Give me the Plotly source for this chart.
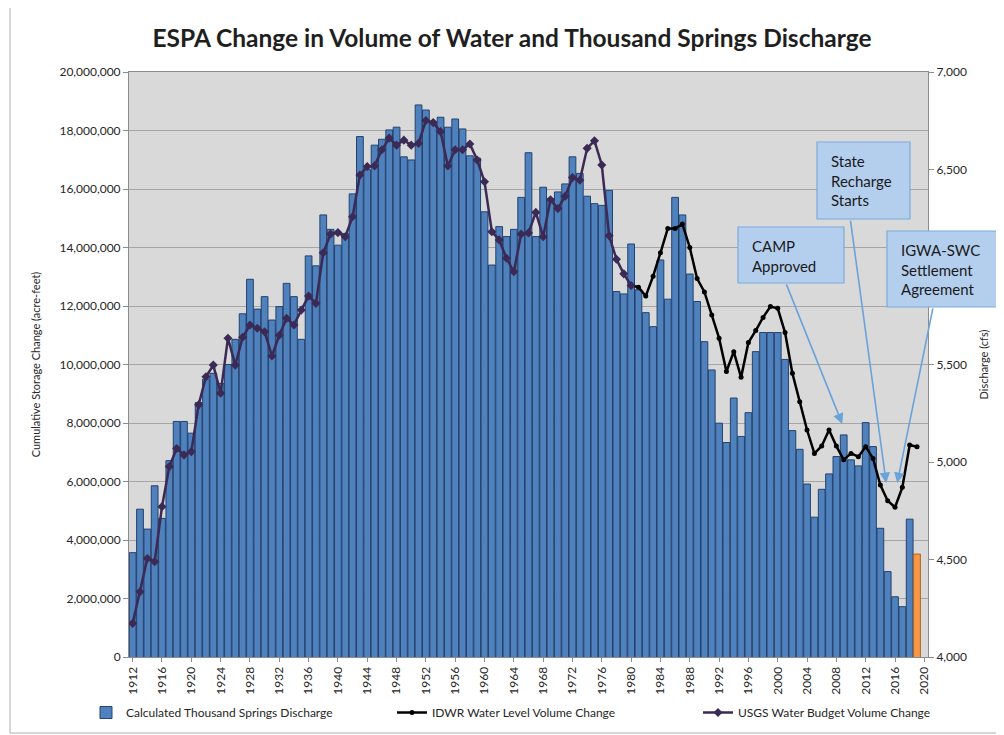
import plotly.graph_objects as go

# ---- data ----
years = list(range(1912, 2020))

# Calculated Thousand Springs Discharge (cfs), 1912-2019
discharge_cfs = [
    4535, 4758, 4656, 4878, 4711, 5007, 5208, 5208, 5148, 5305,   # 1912-1921
    5425, 5455, 5403, 5500, 5629, 5760, 5937, 5784, 5848, 5728,   # 1922-1931
    5797, 5916, 5848, 5629, 6057, 6006, 6267, 6193, 6112, 6172,   # 1932-1941
    6375, 6669, 6499, 6625, 6655, 6703, 6717, 6565, 6549, 6831,   # 1942-1951
    6805, 6745, 6768, 6717, 6759, 6708, 6570, 6558, 6283, 6010,   # 1952-1961
    6207, 6156, 6193, 6357, 6586, 6156, 6409, 6351, 6385, 6426,   # 1962-1971
    6565, 6480, 6363, 6325, 6316, 6393, 5874, 5862, 6118, 5883,   # 1972-1981
    5766, 5694, 6036, 5835, 6357, 6267, 5964, 5823, 5617, 5472,   # 1982-1991
    5199, 5100, 5328, 5131, 5253, 5566, 5664, 5664, 5664, 5526,   # 1992-2001
    5161, 5065, 4887, 4717, 4860, 4939, 5028, 5139, 5011, 4980,   # 2002-2011
    5202, 5079, 4660, 4438, 4309, 4258, 4707, 4528,               # 2012-2019
]
provisional_year = 2019

# USGS Water Budget Volume Change (acre-feet), 1912-1980
usgs_years = list(range(1912, 1981))
usgs_af = [
    1.15e6, 2.23e6, 3.37e6, 3.26e6, 5.14e6, 6.51e6, 7.13e6, 6.91e6, 7.02e6, 8.62e6,
    9.58e6, 9.98e6, 9.02e6, 10.9e6, 9.98e6, 10.93e6, 11.35e6, 11.24e6, 11.12e6, 10.29e6,
    11.0e6, 11.58e6, 11.35e6, 11.86e6, 12.34e6, 12.09e6, 13.82e6, 14.46e6, 14.51e6, 14.37e6,
    15.05e6, 16.48e6, 16.77e6, 16.79e6, 17.34e6, 17.74e6, 17.5e6, 17.67e6, 17.5e6, 17.56e6,
    18.34e6, 18.27e6, 17.96e6, 16.79e6, 17.34e6, 17.34e6, 17.54e6, 16.99e6, 16.25e6, 14.54e6,
    14.26e6, 13.63e6, 13.17e6, 14.46e6, 14.5e6, 15.2e6, 14.37e6, 15.63e6, 15.33e6, 15.75e6,
    16.39e6, 16.3e6, 17.39e6, 17.65e6, 16.82e6, 14.4e6, 13.6e6, 13.1e6, 12.7e6,
]

# IDWR Water Level Volume Change (acre-feet), 1980-2019
idwr_years = list(range(1980, 2020))
idwr_af = [
    12.72e6, 12.64e6, 12.34e6, 13.02e6, 13.82e6, 14.65e6, 14.65e6, 14.8e6, 14.0e6, 12.94e6,
    12.48e6, 11.69e6, 10.9e6, 9.76e6, 10.44e6, 9.56e6, 10.75e6, 11.16e6, 11.61e6, 11.98e6,
    11.92e6, 11.09e6, 9.7e6, 8.73e6, 7.76e6, 6.96e6, 7.21e6, 7.76e6, 7.21e6, 6.74e6,
    6.96e6, 6.85e6, 7.19e6, 6.79e6, 5.88e6, 5.34e6, 5.12e6, 5.8e6, 7.25e6, 7.19e6,
]

x_ticks = list(range(1912, 2021, 4))
cfs_ticks = list(range(4000, 7001, 500))
# the 6,000 label sits under the IGWA-SWC callout in the original
cfs_ticktext = ["" if v == 6000 else f"{v:,}" for v in cfs_ticks]

# callouts: (text, box left/top in page px, width, height, arrow tail (year, af), arrow head (year, af))
callouts = [
    ("CAMP<br>Approved", 738, 227, 106, 56, (2001.1, 12.79e6), (2008.8, 7.97e6)),
    ("State<br>Recharge<br>Starts", 817, 142, 93, 77, (2009.9, 14.97e6), (2014.8, 5.95e6)),
    ("IGWA-SWC<br>Settlement<br>Agreement", 887, 231, 125, 76, (2021.2, 11.97e6), (2016.3, 5.95e6)),
]

FONT = "Lato, 'Open Sans', sans-serif"
BLUE = "#4F81BD"
ORANGE = "#F79646"

# the page body adds an 8px margin, so the figure is laid out 8px smaller
OFF = 8
W, H = 1004 - OFF, 735 - OFF
L, T = 129 - OFF, 72 - OFF
R, B = W - (928 - OFF), H - (657 - OFF)
PW, PH = W - L - R, H - T - B


def px_x(px):
    return (px - OFF - L) / PW


def px_y(py):
    return (H + OFF - B - py) / PH


fig = go.Figure()

bar_colors = [ORANGE if y == provisional_year else BLUE for y in years]
bar_lines = ["#B3651F" if y == provisional_year else "#23426E" for y in years]
fig.add_trace(
    go.Bar(
        x=years,
        y=discharge_cfs,
        name="Calculated Thousand Springs Discharge",
        marker=dict(color=bar_colors, line=dict(color=bar_lines, width=1)),
        yaxis="y",
    )
)
fig.add_trace(
    go.Scatter(
        x=idwr_years,
        y=idwr_af,
        name="IDWR Water Level Volume Change",
        mode="lines+markers",
        line=dict(color="#000000", width=2.5),
        marker=dict(symbol="circle", size=5, color="#000000"),
        yaxis="y2",
    )
)
fig.add_trace(
    go.Scatter(
        x=usgs_years,
        y=usgs_af,
        name="USGS Water Budget Volume Change",
        mode="lines+markers",
        line=dict(color="#3B2A55", width=2.5),
        marker=dict(symbol="diamond", size=7, color="#3B2A55"),
        yaxis="y2",
    )
)

shapes = []
annotations = []
for text, bx, by, bw, bh, tail, head in callouts:
    shapes.append(
        dict(
            type="rect", xref="paper", yref="paper", layer="above",
            x0=px_x(bx), x1=px_x(bx + bw), y0=px_y(by + bh), y1=px_y(by),
            fillcolor="#B4CFEE", line=dict(color="#7DAADB", width=1.2),
        )
    )
    annotations.append(
        dict(
            text=text, xref="paper", yref="paper", showarrow=False,
            x=px_x(bx + 12), y=px_y(by + 8), xanchor="left", yanchor="top", align="left",
            font=dict(family=FONT, size=15, color="#1A1A1A"),
        )
    )
    annotations.append(
        dict(
            text="", xref="x", yref="y2", axref="x", ayref="y2",
            x=head[0], y=head[1], ax=tail[0], ay=tail[1],
            showarrow=True, arrowhead=2, arrowsize=1.3, arrowwidth=1.6, arrowcolor="#6AA3DA",
        )
    )

# thin frame of the original chart object
shapes.append(
    dict(type="rect", xref="paper", yref="paper", layer="below",
         x0=px_x(10), x1=px_x(1000), y0=px_y(733), y1=px_y(-5),
         line=dict(color="#B0B0B0", width=1))
)

fig.update_layout(
    width=W,
    height=H,
    margin=dict(l=L, r=R, t=T, b=B, autoexpand=False),
    paper_bgcolor="#FFFFFF",
    plot_bgcolor="#D9D9D9",
    font=dict(family=FONT, size=12, color="#262626"),
    title=dict(
        text="<b>ESPA Change in Volume of Water and Thousand Springs Discharge</b>",
        x=(512 - OFF) / W, xref="container", xanchor="center",
        y=1 - (38 - OFF) / H, yanchor="middle",
        font=dict(family=FONT, size=24.5, color="#1F1F1F"),
    ),
    bargap=0.08,
    xaxis=dict(
        type="linear", range=[1911.5, 2020.5], automargin=False,
        tickmode="array", tickvals=x_ticks, tickangle=-90,
        tickfont=dict(size=12, color="#262626"),
        showline=True, mirror=True, linecolor="#8C8C8C", linewidth=1,
        ticks="outside", ticklen=4, tickcolor="#8C8C8C",
        showgrid=False, zeroline=False,
    ),
    yaxis=dict(
        side="right", range=[4000, 7000], automargin=False,
        tickmode="array", tickvals=cfs_ticks, ticktext=cfs_ticktext,
        tickfont=dict(size=12, color="#262626"),
        showline=True, linecolor="#8C8C8C", linewidth=1,
        ticks="outside", ticklen=5, tickcolor="#8C8C8C",
        showgrid=False, zeroline=False,
        title=dict(text="Discharge (cfs)", font=dict(size=11, color="#262626"), standoff=14),
    ),
    yaxis2=dict(
        overlaying="y", side="left", range=[0, 20e6], dtick=2e6, tickformat=",d", automargin=False,
        tickfont=dict(size=12, color="#262626"),
        showline=True, linecolor="#8C8C8C", linewidth=1,
        ticks="outside", ticklen=5, tickcolor="#8C8C8C",
        showgrid=True, gridcolor="#A6A6A6", gridwidth=1, zeroline=False,
        title=dict(text="Cumulative Storage Change (acre-feet)", font=dict(size=11, color="#262626"), standoff=16),
    ),
    legend=dict(
        orientation="h", xref="paper", yref="paper",
        x=px_x(86), y=px_y(698), xanchor="left", yanchor="top",
        entrywidth=261, font=dict(size=12, color="#262626"),
        bgcolor="rgba(0,0,0,0)", traceorder="normal",
    ),
    shapes=shapes,
    annotations=annotations,
)

fig.write_html("out.html")
